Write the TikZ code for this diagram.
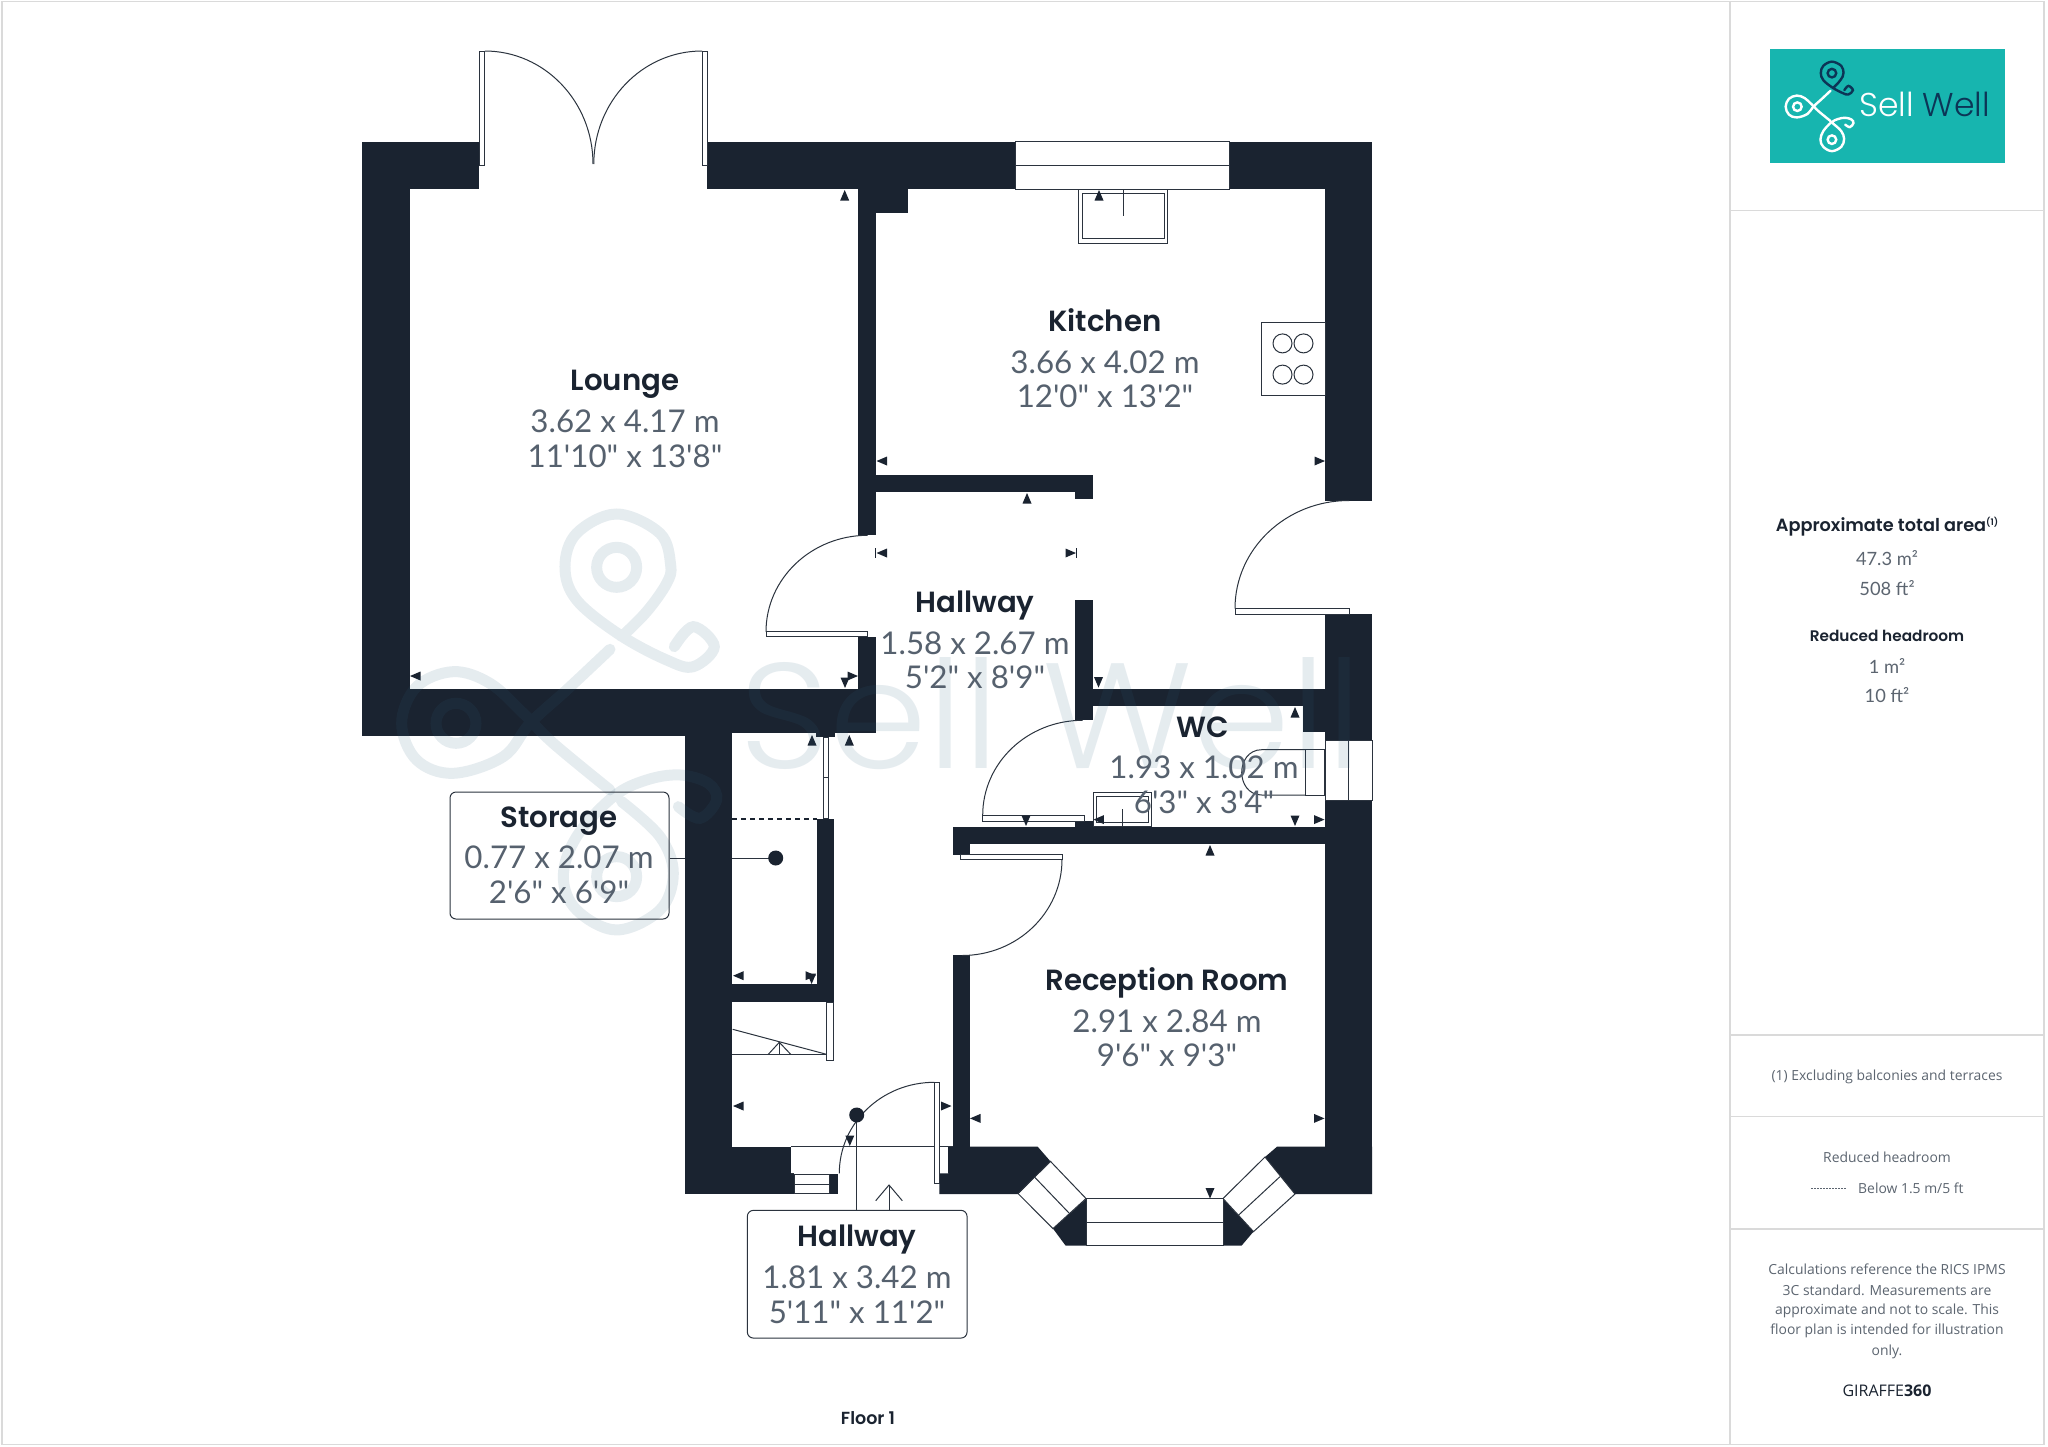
\documentclass[tikz,border=0pt]{standalone}
\usepackage{fontspec}
\setmainfont{Open Sans}
\newfontfamily\tf{Poppins SemiBold}
\newfontfamily\df{Lato}
\newfontfamily\lf{Poppins Light}
\newfontfamily\of{Open Sans}
\definecolor{dk}{HTML}{1A2330}
\definecolor{dimc}{HTML}{56616E}
\definecolor{ln}{HTML}{2B333E}
\definecolor{fr}{HTML}{DADADA}
\definecolor{wm}{HTML}{316482}
\definecolor{teal}{HTML}{17B5AF}
\definecolor{navy}{HTML}{0C3556}
\definecolor{pnl}{HTML}{5C6570}
\tikzset{
  wall/.style={fill=dk,draw=none},
  thin line/.style={draw=ln,line width=1pt},
  leaf/.style={draw=ln,line width=1pt,fill=white},
  ttl/.style={font=\tf\fontsize{29.2}{34}\selectfont,text=dk,inner sep=0pt,anchor=base},
  dimt/.style={font=\df\fontsize{31.3}{34}\selectfont,text=dimc,inner sep=0pt,anchor=base},
  lblbox/.style={draw=ln,line width=1pt,rounded corners=6pt,inner sep=0pt},
  ptext/.style={font=\of\fontsize{13.9}{17}\selectfont,text=pnl,inner sep=0pt},
  pval/.style={font=\df\fontsize{18.3}{20}\selectfont,text=pnl,inner sep=0pt,anchor=base},
  pttl/.style={font=\tf\fontsize{17.7}{20}\selectfont,text=dk,inner sep=0pt,anchor=base},
  framel/.style={draw=fr,line width=1.5pt}
}
\newcommand\arU[2]{\fill[dk] (#1,#2) -- ++(-4.5,10.5) -- ++(9,0) -- cycle;}
\newcommand\arD[2]{\fill[dk] (#1,#2) -- ++(-4.5,-10.5) -- ++(9,0) -- cycle;}
\newcommand\arL[2]{\fill[dk] (#1,#2) -- ++(10.5,-4.5) -- ++(0,9) -- cycle;}
\newcommand\arR[2]{\fill[dk] (#1,#2) -- ++(-10.5,-4.5) -- ++(0,9) -- cycle;}
\newcommand\rr[4]{\fill[dk] (#1,#2) rectangle (#3,#4);}
\newcommand\swTop{plot[smooth,tension=0.6] coordinates {(725,440)(800,365)(860,280)(872,225)(840,130)(710,72)(590,130)(555,230)(590,330)(720,435)(860,510)(940,530)(1003,470)(940,410)(883,470)}}
\newcommand\swTopRing{(710,232) circle (60)}
\newcommand\swLeft{plot[smooth,tension=0.6] coordinates {(690,478)(560,600)(450,700)(370,800)(220,850)(110,810)(65,700)(110,590)(220,545)(330,580)(430,670)(520,760)(690,900)}}
\newcommand\swLeftRing{(228,700) circle (60)}
\newcommand\swBot{plot[smooth,tension=0.6] coordinates {(725,935)(840,1040)(880,1150)(840,1260)(710,1320)(590,1260)(550,1160)(590,1040)(700,920)(800,870)(900,855)(985,880)(1010,930)(960,985)(895,950)}}
\newcommand\swBotRing{(710,1160) circle (60)}
\begin{document}
\begin{tikzpicture}[x=1pt,y=-1pt,line cap=butt]
\useasboundingbox (0,0) rectangle (2048,1446);
\fill[white] (0,0) rectangle (2048,1446);
% frame
\draw[framel] (2,1.5) rectangle (2044,1444.3);
\draw[framel] (1730,1.5) -- (1730,1444.3);
\draw[framel] (1730,210.7) -- (2044,210.7);
\draw[framel] (1730,1035) -- (2044,1035);
\draw[framel] (1730,1116.3) -- (2044,1116.3);
\draw[framel] (1730,1229) -- (2044,1229);
% walls
\rr{362}{141.6}{479.4}{189}
\rr{362}{141.6}{409.7}{736}
\rr{362}{688.5}{685}{736}
\rr{685}{688.5}{876}{733}
\rr{858}{637}{876}{733}
\rr{684.5}{733}{732}{1194}
\rr{684.5}{1146.7}{791}{1194}
\rr{791}{1173.6}{794}{1194}
\rr{829}{1173.5}{838}{1194}
\rr{707.4}{141.6}{1015}{189}
\rr{1229.5}{141.6}{1372}{189}
\rr{858}{141.6}{876}{535}
\rr{876}{189}{908}{213}
\rr{876}{475}{1093}{492}
\rr{1075}{492}{1093}{499}
\rr{1325}{141.6}{1372}{500.5}
\rr{1325}{614}{1372}{740}
\rr{1325}{800.7}{1372}{1194}
\rr{1075}{600}{1092.5}{720}
\rr{1092}{688.5}{1325}{706}
\rr{1303}{706}{1325}{732.3}
\rr{952.5}{826.7}{1325}{844}
\rr{952.5}{844}{969.7}{854.5}
\rr{1075}{821}{1094}{826.7}
\rr{952.5}{955.4}{969.5}{1146.7}
\rr{816.7}{818.8}{833.7}{1002}
\rr{732}{984.4}{833.7}{1002}
\rr{816}{733}{834.6}{737.3}
\fill[wall] (948.3,1146.7) -- (1037.7,1146.7) -- (1050.5,1161.4) -- (1018,1194) -- (939.3,1194) -- (939.3,1173.3) -- (948.3,1173.3) -- cycle;
\fill[wall] (1277,1146.7) -- (1265,1157) -- (1295,1194) -- (1372,1194) -- (1372,1146.7) -- cycle;
\fill[wall] (1086,1199) -- (1086,1245.5) -- (1065.5,1245.5) -- (1053,1228.6) -- cycle;
\fill[wall] (1223,1199) -- (1223,1245.5) -- (1241.7,1245.5) -- (1253.5,1231.6) -- cycle;
% kitchen window
\draw[thin line] (1015,141.6) rectangle (1229.5,189);
\draw[thin line] (1015,165) -- (1229.5,165);
% WC window
\draw[thin line] (1325,740) rectangle (1372,800.7);
\draw[thin line] (1348.3,740) -- (1348.3,800.7);
% bay windows
\draw[thin line] (1050.5,1161.4) -- (1086,1198.5) -- (1053,1228.6) -- (1018,1193.5) -- cycle;
\draw[thin line] (1034.5,1177) -- (1069,1213);
\draw[thin line] (1086,1198.5) rectangle (1223,1245.5);
\draw[thin line] (1086,1222) -- (1223,1222);
\draw[thin line] (1223,1198.5) -- (1265,1157) -- (1295,1194) -- (1253.5,1231.6) -- cycle;
\draw[thin line] (1238,1215.6) -- (1280,1176.6);
% french doors
\draw[leaf] (479.4,51) rectangle (484.8,165);
\draw[leaf] (702,51) rectangle (707.4,165);
\draw[thin line] (484.8,51) arc[start angle=-90,end angle=0,x radius=108.2,y radius=113];
\draw[thin line] (702,51) arc[start angle=-90,end angle=-180,x radius=108.2,y radius=113];
% lounge door
\draw[leaf] (766,631) rectangle (867.7,636.5);
\draw[thin line] (867.7,535.3) arc[start angle=-90,end angle=-180,x radius=101.7,y radius=96.5];
% exterior kitchen door
\draw[leaf] (1235,608.6) rectangle (1349.5,614);
\draw[thin line] (1349,500.5) arc[start angle=-90,end angle=-180,x radius=114,y radius=108];
% WC door
\draw[leaf] (982.7,815.3) rectangle (1084,821);
\draw[thin line] (1082.7,720.3) arc[start angle=-90,end angle=-180,x radius=100,y radius=95];
% Reception door
\draw[leaf] (960.8,854.8) rectangle (1062,859.5);
\draw[thin line] (1062,859.5) arc[start angle=0,end angle=90,x radius=100,y radius=96];
% storage
\draw[leaf] (823.2,737.3) rectangle (828.3,818.8);
\draw[thin line] (823.2,777) -- (828.3,777);
\draw[dk,line width=2pt,dash pattern=on 5pt off 4pt] (732,818.8) -- (816.7,818.8);
% stairs
\draw[leaf] (826.7,1002) rectangle (833.3,1060.7);
\draw[thin line] (732.7,1029.3) -- (826.5,1054.3);
\draw[thin line] (732,1054.3) -- (826.7,1054.3);
\draw[thin line] (768.3,1054.3) -- (779.3,1042.3) -- (790.7,1054.3);
\draw[thin line] (779.3,1042.3) -- (779.3,1054.3);
% entrance
\draw[thin line] (791,1146.7) -- (952.5,1146.7);
\draw[thin line] (794,1174) rectangle (829,1193.6);
\draw[thin line] (794,1184) -- (829,1184);
\draw[thin line] (791,1173.6) -- (794,1173.6);
\fill[dk] (948.3,1146.7) rectangle (952.5,1173.3);
\draw[leaf] (934.3,1082.3) rectangle (939.3,1183.3);
\draw[thin line] (934.3,1082.3) arc[start angle=-90,end angle=-180,x radius=95,y radius=91];
% fixtures
\draw[leaf] (1078,189) rectangle (1167,243);
\draw[thin line] (1082,193.4) rectangle (1164.4,238.5);
\draw[thin line] (1123.5,189) -- (1123.5,215.7);
\draw[leaf] (1261,322.4) rectangle (1325,395);
\foreach \cx/\cy in {1282.5/343.4,1303.5/343.4,1282.5/374.6,1303.5/374.6}
  \draw[thin line] (\cx,\cy) circle (9.5);
\draw[leaf] (1093,792.3) rectangle (1151.7,826.7);
\draw[thin line] (1096,796) rectangle (1148.3,822.7);
\draw[thin line] (1122.3,809.3) -- (1122.3,826.7);
\draw[leaf] (1305,749.7) rectangle (1324.3,795);
\draw[thin line] (1305,749.7) -- (1261.7,749.7) .. controls (1248,749.7) and (1241.7,762) .. (1241.7,772.3) .. controls (1241.7,783) and (1248,795) .. (1261.7,795) -- (1305,795);
% arrows
\arU{844.7}{190}\arU{1099}{190}\arL{876.5}{461}\arR{1325}{461}\arU{1027}{493}
\arL{876.5}{553}\arR{1076}{553}
\draw[dk,line width=1pt] (875.5,548)--(875.5,558) (1076.5,548)--(1076.5,558);
\arL{410}{676}\arR{858}{676}\arD{845}{688}\arD{1098.5}{687.6}
\arU{812}{735}\arU{849.3}{735}\arU{1295}{707}\arD{1026}{826}\arL{1093.4}{819.6}\arD{1295}{826}\arR{1324.5}{819.6}\arU{1210}{845}
\arL{733}{975.7}\arR{816}{975.7}\arD{811.6}{984}\arL{733}{1106}\arR{951.5}{1106}\arL{970}{1118.4}\arR{1324.5}{1118.4}\arD{849.8}{1146}\arD{1210}{1198.5}
% watermark
\begin{scope}[shift={(380,490)},scale=0.3333,draw=wm,draw opacity=0.122,line width=11pt,line cap=round]
\draw \swTop; \draw \swTopRing; \draw \swLeft; \draw \swLeftRing; \draw \swBot; \draw \swBotRing;
\end{scope}
\node[anchor=base west,inner sep=0pt,text=wm,text opacity=0.122,font=\lf\fontsize{150}{150}\selectfont] (wmtext) at (739,768) {\scalebox{1.05}[1]{Sell Well}};
% label boxes
\coordinate (stdot) at (775.7,858);
\coordinate (hwdot) at (856.7,1115);
\node[lblbox,minimum width=219pt,minimum height=127pt] (stbox) at (559.5,855.5) {};
\node[lblbox,minimum width=219.7pt,minimum height=127.7pt] (hwbox) at (857.2,1274.2) {};
\draw[thin line] (stbox.east |- stdot) -- (684.5,858) (732,858) -- (stdot);
\draw[thin line] (hwdot) -- (hwbox.north -| hwdot);
\coordinate (entry) at (889,1185);
\draw[thin line] (entry) -- (hwbox.north -| entry);
\draw[thin line] (875.7,1200.7) -- (entry) -- (902.3,1200.7);
\fill[dk] (stdot) circle (7.5);
\fill[dk] (hwdot) circle (7.5);
% room text
\node[ttl] (t1) at (625,390.7) {Lounge};
\node[dimt] (d1a) at (625,432.8) {3.62 x 4.17 m};
\node[dimt] (d1b) at (625,467) {11'10" x 13'8"};
\node[ttl] (t2) at (1105,331) {Kitchen};
\node[dimt] (d2a) at (1105,373.5) {3.66 x 4.02 m};
\node[dimt] (d2b) at (1105,407.5) {12'0" x 13'2"};
\node[ttl] (t3) at (975,612.6) {Hallway};
\node[dimt] (d3a) at (975,654) {1.58 x 2.67 m};
\node[dimt] (d3b) at (975,688) {5'2" x 8'9"};
\node[ttl] (t4) at (1203,737) {WC};
\node[dimt] (d4a) at (1204,778) {1.93 x 1.02 m};
\node[dimt] (d4b) at (1204,813) {6'3" x 3'4"};
\node[ttl] (t5) at (1167,990) {Reception Room};
\node[dimt] (d5a) at (1167,1032) {2.91 x 2.84 m};
\node[dimt] (d5b) at (1167,1066) {9'6" x 9'3"};
\node[ttl] (t6) at (559,827.5) {Storage};
\node[dimt] (d6a) at (559,868.5) {0.77 x 2.07 m};
\node[dimt] (d6b) at (559,903) {2'6" x 6'9"};
\node[ttl] (t7) at (857,1246.5) {Hallway};
\node[dimt] (d7a) at (857,1288) {1.81 x 3.42 m};
\node[dimt] (d7b) at (857,1323) {5'11" x 11'2"};
\node[font=\tf\fontsize{17.5}{20}\selectfont,text=dk,inner sep=0pt] (floor) at (868,1418) {Floor 1};
% logo
\fill[teal] (1770,49.3) rectangle (2005,163.3);
\begin{scope}[shift={(1781,56.5)},scale=0.0717,line cap=round,line width=2.4pt]
\draw[navy] \swTop; \draw[navy] \swTopRing;
\draw[white] \swLeft; \draw[white] \swLeftRing; \draw[white] \swBot; \draw[white] \swBotRing;
\end{scope}
\node[anchor=base west,inner sep=0pt,font=\lf\fontsize{33}{33}\selectfont] (logot) at (1859,116) {\textcolor{white}{Sell} \textcolor{navy}{Well}};
% panel text
\node[pttl] (a1) at (1887,531.5) {Approximate total area\raisebox{6pt}{\fontsize{9}{9}\selectfont (1)}};
\node[pval] (a2) at (1887,565.5) {47.3 m²};
\node[pval] (a3) at (1887,595) {508 ft²};
\node[font=\tf\fontsize{15.3}{18}\selectfont,text=dk,inner sep=0pt,anchor=base] (a4) at (1887,641.5) {Reduced headroom};
\node[pval] (a5) at (1887,673) {1 m²};
\node[pval] (a6) at (1887,702) {10 ft²};
\node[ptext] (n1) at (1887,1076.5) {(1) Excluding balconies and terraces};
\node[ptext] (n2) at (1887,1157) {Reduced headroom};
\node[ptext,anchor=west] (n3) at (1858,1188) {Below 1.5 m/5 ft};
\draw[pnl,line width=1pt,dash pattern=on 1.5pt off 1.5pt] (1811,1188) -- (1847,1188);
\node[ptext] (c1) at (1887,1269) {Calculations reference the RICS IPMS};
\node[ptext] (c2) at (1887,1290) {3C standard. Measurements are};
\node[ptext] (c3) at (1887,1310.5) {approximate and not to scale. This};
\node[ptext] (c4) at (1887,1331) {floor plan is intended for illustration};
\node[ptext] (c5) at (1887,1351.5) {only.};
\node[inner sep=0pt,font=\of\fontsize{16}{18}\selectfont,text=dk] (g) at (1887,1391) {GIRAFFE{\of\bfseries 360}};
\end{tikzpicture}
\end{document}
